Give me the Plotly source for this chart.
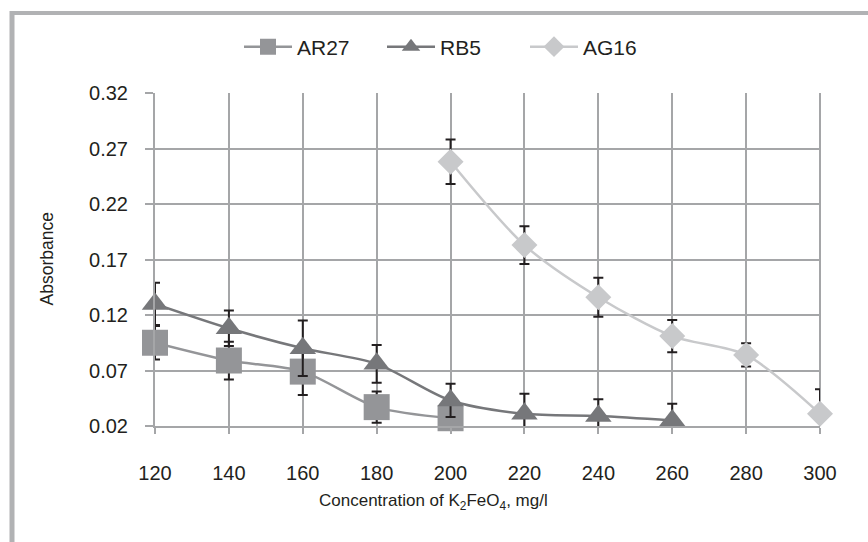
import plotly.graph_objects as go

conc = [120, 140, 160, 180, 200, 220, 240, 260, 280, 300]

ar27_x = [120, 140, 160, 180, 200]
ar27_y = [0.095, 0.079, 0.069, 0.037, 0.027]
ar27_err = [0.015, 0.017, 0.021, 0.014, 0.006]

rb5_x = [120, 140, 160, 180, 200, 220, 240, 260]
rb5_y = [0.130, 0.108, 0.090, 0.076, 0.043, 0.031, 0.029, 0.025]
rb5_err = [0.019, 0.016, 0.025, 0.017, 0.015, 0.018, 0.015, 0.015]

ag16_x = [200, 220, 240, 260, 280, 300]
ag16_y = [0.258, 0.183, 0.136, 0.101, 0.084, 0.031]
ag16_err = [0.020, 0.017, 0.0175, 0.0145, 0.0105, 0.022]

y_ticks = [0.02, 0.07, 0.12, 0.17, 0.22, 0.27, 0.32]
y_ticklabels = ["0.02", "0.07", "0.12", "0.17", "0.22", "0.27", "0.32"]

FONT = "Liberation Sans, Arial, sans-serif"
TXT = "#231f20"
GRID = "#a5a6a8"
ERR = "#231f20"

fig = go.Figure()

def add(name, x, y, err, color, symbol, size):
    fig.add_trace(go.Scatter(
        x=x, y=y, name=name, mode="lines+markers",
        line=dict(color=color, width=2.5, shape="spline", smoothing=0.8),
        marker=dict(symbol=symbol, size=size, color=color),
        error_y=dict(type="data", array=err, visible=True, color=ERR,
                     thickness=2, width=5),
        cliponaxis=False,
    ))

add("AR27", ar27_x, ar27_y, ar27_err, "#949598", "square", 26)
add("RB5", rb5_x, rb5_y, rb5_err, "#76777a", "triangle-up", 23)
add("AG16", ag16_x, ag16_y, ag16_err, "#c8c9cb", "diamond", 20)

L, R, T, B = 155, 48, 93, 116
W, H = 868, 542
pw = W - L - R
ph = H - T - B

def px(xp):
    return (xp - L) / pw

def py(yp):
    return (H - B - yp) / ph

fig.update_layout(
    width=W, height=H,
    margin=dict(l=L, r=R, t=T, b=B, autoexpand=False),
    paper_bgcolor="white", plot_bgcolor="white",
    font=dict(family=FONT, size=20, color=TXT),
    showlegend=True,
    legend=dict(orientation="h", x=px(239), y=py(47), xanchor="left",
                yanchor="middle", font=dict(size=21, color=TXT),
                itemsizing="trace", itemwidth=48, entrywidth=80,
                tracegroupgap=0, bgcolor="rgba(0,0,0,0)"),
    xaxis=dict(range=[120, 300], tickmode="array", tickvals=conc,
               ticktext=[str(c) for c in conc],
               showgrid=True, gridcolor=GRID, gridwidth=2,
               showline=True, linecolor=GRID, linewidth=2,
               ticks="outside", ticklen=6, tickwidth=2, tickcolor=GRID,
               ticklabelstandoff=22, tickfont=dict(size=20),
               zeroline=False, fixedrange=True),
    yaxis=dict(range=[0.02, 0.32], tickmode="array", tickvals=y_ticks,
               ticktext=y_ticklabels,
               showgrid=True, gridcolor=GRID, gridwidth=2,
               showline=True, linecolor=GRID, linewidth=2, mirror=False,
               ticks="outside", ticklen=8, tickwidth=2, tickcolor=GRID,
               ticklabelstandoff=13, tickfont=dict(size=20),
               zeroline=False, fixedrange=True),
    annotations=[
        dict(text="Absorbance", textangle=-90, x=px(46), y=py(259.5),
             xref="paper", yref="paper", showarrow=False,
             xanchor="center", yanchor="middle", font=dict(size=17.5, color=TXT)),
        dict(text="Concentration of K<sub>2</sub>FeO<sub>4</sub>, mg/l",
             x=px(433), y=py(502), xref="paper", yref="paper", showarrow=False,
             xanchor="center", yanchor="middle", font=dict(size=17, color=TXT)),
    ],
    shapes=[
        dict(type="line", xref="paper", yref="paper", x0=px(10), x1=px(870),
             y0=py(13), y1=py(13), line=dict(color="#b1b2b4", width=4)),
        dict(type="line", xref="paper", yref="paper", x0=px(12), x1=px(12),
             y0=py(11), y1=py(545), line=dict(color="#b1b2b4", width=5)),
        dict(type="line", xref="paper", yref="paper", x0=1, x1=1,
             y0=0, y1=1, line=dict(color=GRID, width=2), layer="below"),
    ],
)

fig.write_html("out.html", config={"displayModeBar": False},
               post_script="document.body.style.margin='0';document.body.style.overflow='hidden';")
